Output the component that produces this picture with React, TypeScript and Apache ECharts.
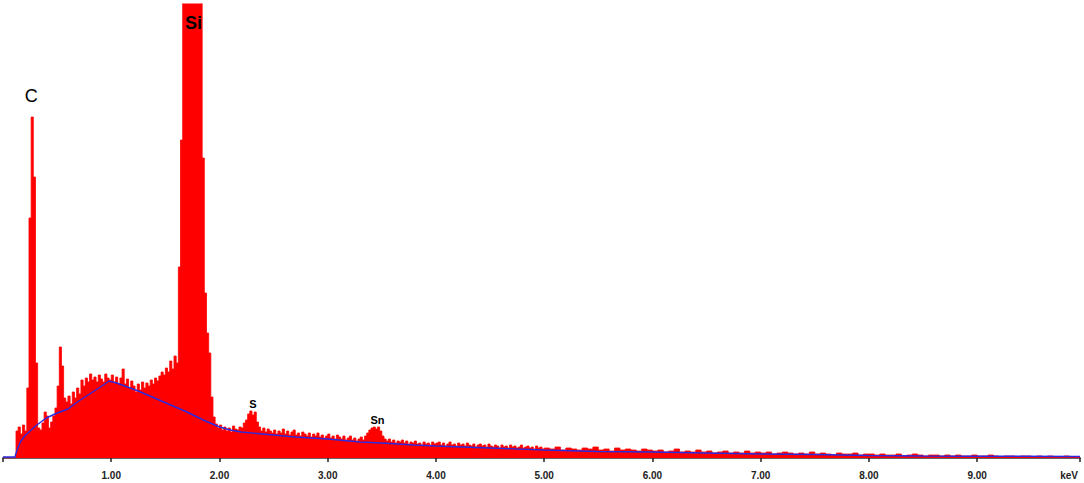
import React, { useEffect, useRef } from "react";
import * as echarts from "echarts";

// Spectrum counts, segment A: 0.00 – 4.98 keV, 0.02 keV per channel
const stepA = 0.02;
const countsA = [
  0, 0, 0, 0, 0, 0, 27, 31, 24, 33,
  27, 70, 240, 341, 281, 95, 30, 28, 35, 46,
  42, 30, 36, 42, 50, 72, 111, 92, 60, 56,
  62, 54, 66, 60, 70, 64, 78, 72, 80, 76,
  84, 78, 81, 76, 83, 79, 76, 84, 80, 78,
  83, 76, 81, 74, 80, 89, 74, 79, 70, 77,
  72, 66, 74, 68, 76, 70, 75, 72, 78, 74,
  80, 77, 82, 86, 83, 90, 86, 97, 89, 102,
  95, 191, 318, 520, 600, 680, 720, 740, 720, 660,
  580, 490, 300, 165, 125, 105, 61, 41, 34, 30,
  33, 28, 31, 27, 30, 26, 32, 29, 28, 31,
  30, 35, 38, 44, 47, 43, 46, 36, 31, 27,
  30, 26, 29, 27, 25, 28, 24, 27, 25, 29,
  24, 27, 23, 26, 28, 23, 25, 22, 26, 24,
  22, 25, 21, 24, 22, 25, 21, 23, 20, 22,
  24, 20, 22, 19, 23, 21, 19, 22, 18, 20,
  22, 18, 20, 17, 19, 21, 18, 22, 25, 28,
  30, 31, 29, 31, 27, 22, 19, 17, 19, 16,
  18, 15, 17, 16, 18, 15, 17, 14, 16, 15,
  17, 14, 15, 13, 16, 14, 15, 13, 16, 14,
  15, 16, 13, 15, 12, 14, 16, 13, 14, 12,
  15, 13, 14, 12, 15, 13, 12, 14, 11, 13,
  14, 12, 13, 11, 14, 12, 11, 13, 12, 10,
  13, 11, 12, 10, 13, 11, 12, 10, 11, 13,
  10, 11, 12, 10, 11, 9, 12, 10, 11, 9,
];

// Segment B: 5.00 – 9.95 keV, 0.05 keV per channel
const startB = 5.0;
const stepB = 0.05;
const countsB = [
  10, 9, 11, 8, 10, 9, 8, 10, 9, 11, 8, 9, 7, 10, 8, 9, 8, 7, 9, 8,
  7, 8, 6, 7, 9, 6, 7, 6, 8, 6, 7, 5, 6, 7, 5, 6, 5, 7, 5, 6,
  5, 6, 4, 5, 6, 5, 4, 5, 4, 6, 4, 5, 4, 3, 5, 4, 4, 5, 3, 4,
  4, 3, 4, 3, 3, 4, 2, 3, 4, 3, 2, 3, 3, 2, 3, 2, 3, 2, 2, 3,
  2, 2, 3, 2, 1, 2, 2, 1, 2, 2, 1, 2, 1, 2, 1, 1, 2, 1, 1, 1,
];

// Fitted background (blue line)
const bgEnergies = [
  0.0, 0.11, 0.13, 0.16, 0.2, 0.25, 0.3, 0.4, 0.5, 0.6, 0.7, 0.8, 0.9, 0.98,
  1.05, 1.15, 1.25, 1.4, 1.55, 1.7, 1.85, 2.0, 2.1, 2.2, 2.4, 2.7, 3.0, 3.3,
  3.5, 3.8, 4.0, 4.5, 5.0, 5.5, 6.0, 6.5, 7.0, 7.5, 8.0, 8.5, 9.0, 9.95,
];
const bgCounts = [
  1, 1, 8, 16, 22, 27, 32, 40, 45, 49, 57, 64, 71, 77,
  75, 71, 67, 60, 53, 46, 38, 31, 28, 26, 24, 21, 19, 16,
  15, 13, 12, 10, 8, 6.5, 6, 5, 4, 3.5, 2.5, 2, 1.8, 1.5,
];

const tickValues = [1, 2, 3, 4, 5, 6, 7, 8, 9];
const axisUnit = "keV";

const peakNames = ["C", "Si", "S", "Sn"];
const peakEnergies = [0.26, 1.76, 2.31, 3.46];
const peakLabelCounts = [362, 435, 54, 38];

const peakLabelStyle: Record<string, any> = {
  C: { fontSize: 18, fontWeight: "normal" },
  Si: { fontSize: 18, fontWeight: "bold" },
  S: { fontSize: 11, fontWeight: "bold" },
  Sn: { fontSize: 11, fontWeight: "bold" },
};

export default function App() {
  const ref = useRef<HTMLDivElement>(null);

  useEffect(() => {
    if (!ref.current) return;
    const chart = echarts.init(ref.current, undefined, { renderer: "svg" });

    const spectrum: number[][] = [];
    countsA.forEach((c, i) => spectrum.push([+(i * stepA).toFixed(2), c]));
    countsB.forEach((c, i) => spectrum.push([+(startB + i * stepB).toFixed(2), c]));
    const background = bgEnergies.map((e, i) => [e, bgCounts[i]]);

    const font = "'Liberation Sans', Arial, sans-serif";

    chart.setOption({
      animation: false,
      backgroundColor: "#ffffff",
      grid: { left: 3, right: 4, top: 4, bottom: 25, containLabel: false },
      xAxis: {
        type: "value",
        min: 0,
        max: 9.95,
        interval: 1,
        offset: 4,
        splitLine: { show: false },
        axisLine: { show: true, lineStyle: { color: "#666666", width: 2 } },
        axisTick: {
          show: true,
          inside: false,
          length: 4,
          lineStyle: { color: "#222222", width: 1.5 },
        },
        axisLabel: {
          show: true,
          customValues: tickValues,
          margin: 8,
          color: "#222222",
          fontFamily: font,
          fontSize: 10,
          fontWeight: "bold",
          formatter: (v: number) => (v <= 0 || v > 9.5 ? "" : v.toFixed(2)),
        },
      },
      yAxis: {
        type: "value",
        min: 0,
        max: 454,
        show: false,
        splitLine: { show: false },
      },
      graphic: [
        {
          type: "text",
          right: 6,
          top: 470,
          style: {
            text: axisUnit,
            fill: "#222222",
            font: `bold 10px ${font}`,
          },
        },
      ],
      series: [
        {
          type: "line",
          name: "spectrum",
          data: spectrum,
          step: "end",
          symbol: "none",
          clip: true,
          lineStyle: { color: "#ff0000", width: 0.8 },
          areaStyle: { color: "#ff0000", opacity: 1 },
          z: 2,
          markPoint: {
            symbol: "circle",
            symbolSize: 1,
            itemStyle: { color: "rgba(0,0,0,0)" },
            data: peakNames.map((n, i) => ({
              name: n,
              coord: [peakEnergies[i], peakLabelCounts[i]],
              label: {
                show: true,
                position: "inside",
                formatter: n,
                color: "#000000",
                fontFamily: font,
                ...peakLabelStyle[n],
              },
            })),
          },
        },
        {
          type: "line",
          name: "background",
          data: background,
          symbol: "none",
          lineStyle: { color: "#2a2ae0", width: 1.4 },
          z: 3,
        },
      ],
    });

    return () => chart.dispose();
  }, []);

  return (
    <div
      ref={ref}
      style={{ position: "fixed", left: 0, top: 0, width: 1084, height: 483 }}
    />
  );
}
